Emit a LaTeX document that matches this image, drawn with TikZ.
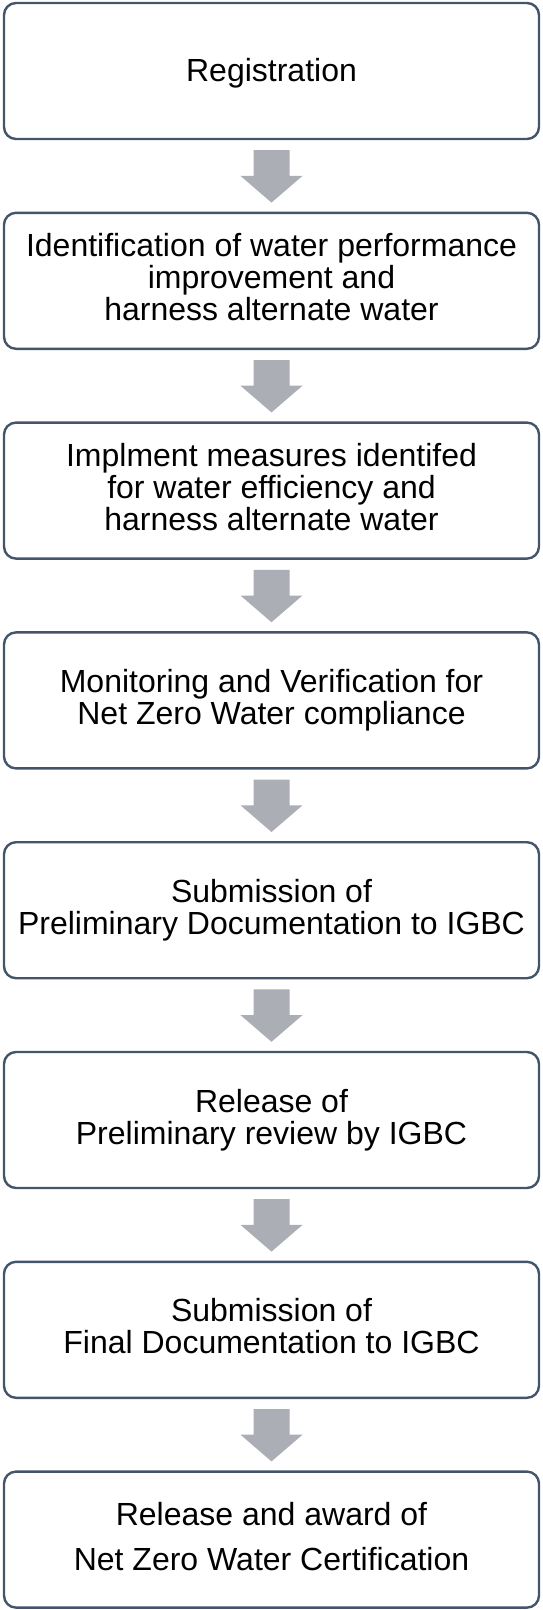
\documentclass[tikz,border=0pt]{standalone}
\usepackage{fontspec}
\setmainfont{Liberation Sans}
\usepackage{tikz}
\usetikzlibrary{calc}
\definecolor{boxline}{HTML}{44546A}
\definecolor{arrowgray}{HTML}{ABAEB5}
\tikzset{
  stage/.style={draw=boxline, line width=2.4pt, rounded corners=12pt, fill=white,
    minimum width=535pt, minimum height=136pt, inner sep=0pt, align=center,
    execute at begin node=\rule{0pt}{27pt},
    execute at end node=\rule[-7pt]{0pt}{7pt},
    font=\fontsize{32}{32}\selectfont},
  flowarrow/.style={fill=arrowgray}
}
\begin{document}
\begin{tikzpicture}[x=1pt,y=-1pt]
\useasboundingbox (0,0) rectangle (543,1610);
\node[stage] (b1) at (271.5,71) {Registration};
\node[stage] (b2) at (271.5,280.8) {Identification of water performance\\improvement and\\harness alternate water};
\node[stage] (b3) at (271.5,490.6) {Implment measures identifed\\for water efficiency and\\harness alternate water};
\node[stage] (b4) at (271.5,700.4) {Monitoring and Verification for\\Net Zero Water compliance};
\node[stage] (b5) at (271.5,910.2) {Submission of\\Preliminary Documentation to IGBC};
\node[stage] (b6) at (271.5,1120) {Release of\\Preliminary review by IGBC};
\node[stage] (b7) at (271.5,1329.8) {Submission of\\Final Documentation to IGBC};
\node[stage, font=\fontsize{32}{45}\selectfont] (b8) at (271.5,1539.6) {Release and award of\\Net Zero Water Certification};
\foreach \i [evaluate=\i as \j using int(\i+1)] in {1,...,7}
  \fill[flowarrow] ($(b\i.south)+(-18,10)$) -- ($(b\i.south)+(18,10)$)
    -- ($(b\i.south)!0.5!(b\j.north)+(18,0)$) -- ($(b\i.south)!0.5!(b\j.north)+(31,0)$)
    -- ($(b\j.north)+(0,-9)$)
    -- ($(b\i.south)!0.5!(b\j.north)+(-31,0)$) -- ($(b\i.south)!0.5!(b\j.north)+(-18,0)$) -- cycle;
\end{tikzpicture}
\end{document}
